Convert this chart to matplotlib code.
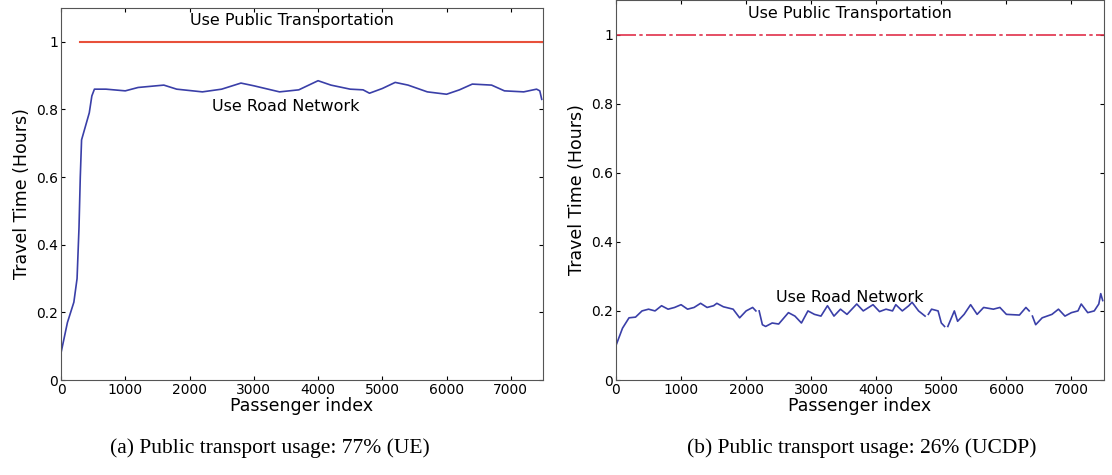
import matplotlib
matplotlib.use("Agg")
import matplotlib.pyplot as plt
import numpy as np

nan = np.nan

# left panel (UE)
ue_x = [0, 100, 200, 250, 280, 300, 320, 380, 440, 480, 520, 700, 1000, 1200, 1600, 1800, 2200, 2500,
        2800, 3000, 3400, 3700, 4000, 4200, 4500, 4700, 4800, 5000, 5200, 5400, 5700, 6000, 6200, 6400,
        6700, 6900, 7200, 7400, 7450, 7480]
ue_y = [0.08, 0.17, 0.23, 0.30, 0.45, 0.60, 0.71, 0.75, 0.79, 0.84, 0.86, 0.86, 0.855, 0.865, 0.872, 0.86,
        0.852, 0.86, 0.878, 0.87, 0.852, 0.858, 0.885, 0.872, 0.86, 0.858, 0.848, 0.862, 0.88, 0.872, 0.852,
        0.845, 0.858, 0.875, 0.872, 0.855, 0.852, 0.86, 0.855, 0.83]
ue_pt_x = [300, 7500]
ue_pt_y = [1.0, 1.0]

# right panel (UCDP)
ucdp_x = [0, 100, 200, 300, 400, 500, 600, 700, 800, 900, 1000, 1100, 1200, 1300, 1400, 1500, 1550, 1650,
          1800, 1900, 2000, 2100, 2150, 2175,
          2200, 2250, 2300, 2400, 2500, 2650, 2750, 2850, 2950, 3050, 3150, 3250, 3350, 3450, 3550, 3700,
          3800, 3950, 4050, 4150, 4250, 4300, 4400, 4500, 4550, 4650, 4750, 4775,
          4800, 4850, 4950, 5000, 5050, 5075,
          5100, 5200, 5250, 5350, 5450, 5550, 5650, 5800, 5900, 6000, 6200, 6300, 6350, 6375,
          6400, 6450, 6550, 6700, 6800, 6900, 7000, 7100, 7150, 7250, 7350, 7420, 7450, 7480]
ucdp_y = [0.10, 0.15, 0.18, 0.182, 0.20, 0.205, 0.20, 0.215, 0.205, 0.21, 0.218, 0.205, 0.21, 0.222, 0.21,
          0.215, 0.222, 0.212, 0.205, 0.18, 0.20, 0.21, 0.20, nan,
          0.20, 0.16, 0.155, 0.165, 0.162, 0.195, 0.185, 0.165, 0.20, 0.19, 0.185, 0.215, 0.185, 0.205,
          0.19, 0.22, 0.20, 0.218, 0.198, 0.205, 0.20, 0.218, 0.20, 0.215, 0.225, 0.20, 0.185, nan,
          0.19, 0.205, 0.20, 0.165, 0.155, nan,
          0.155, 0.20, 0.17, 0.19, 0.218, 0.19, 0.21, 0.205, 0.21, 0.19, 0.188, 0.21, 0.20, nan,
          0.185, 0.16, 0.18, 0.19, 0.205, 0.185, 0.195, 0.20, 0.22, 0.195, 0.20, 0.22, 0.25, 0.23]
ucdp_pt_x = [0, 7500]
ucdp_pt_y = [1.0, 1.0]

fig = plt.figure(figsize=(11.12, 4.75), dpi=100)
ax1 = fig.add_axes([61 / 1112, 95 / 475, 482 / 1112, 372 / 475])
ax2 = fig.add_axes([616 / 1112, 95 / 475, 488 / 1112, 380 / 475])

ax1.plot(ue_pt_x, ue_pt_y, color="#e8503a", linewidth=1.5)
ax1.plot(ue_x, ue_y, color="#3a3fa8", linewidth=1.2)
ax1.text(3600, 1.04, "Use Public Transportation", ha="center", va="bottom", fontsize=11.5)
ax1.text(3500, 0.81, "Use Road Network", ha="center", va="center", fontsize=11.5)
ax1.set_ylim(0, 1.1)

ax2.plot(ucdp_pt_x, ucdp_pt_y, color="#e0304a", linewidth=1.2, linestyle=(0, (12, 2, 2, 2)))
ax2.plot(ucdp_x, ucdp_y, color="#3a3fa8", linewidth=1.2)
ax2.text(3600, 1.04, "Use Public Transportation", ha="center", va="bottom", fontsize=11.5)
ax2.text(3600, 0.24, "Use Road Network", ha="center", va="center", fontsize=11.5)
ax2.set_ylim(0, 1.1)

for ax in (ax1, ax2):
    ax.set_xlim(0, 7500)
    ax.set_xticks(range(0, 7001, 1000))
    ax.set_yticks([0, 0.2, 0.4, 0.6, 0.8, 1])
    ax.set_yticklabels(["0", "0.2", "0.4", "0.6", "0.8", "1"])
    ax.tick_params(direction="in", top=True, right=True, labelsize=10, length=3, pad=2)
    ax.set_xlabel("Passenger index", fontsize=12.5, labelpad=0)
    ax.set_ylabel("Travel Time (Hours)", fontsize=12.5, labelpad=4)
    for s in ax.spines.values():
        s.set_color("#555555")

fig.text(270 / 1112, 22 / 475, "(a) Public transport usage: 77% (UE)", ha="center", va="baseline",
         fontsize=15.5, family="Liberation Serif")
fig.text(862 / 1112, 22 / 475, "(b) Public transport usage: 26% (UCDP)", ha="center", va="baseline",
         fontsize=15.5, family="Liberation Serif")

fig.savefig("out.png", dpi=100)
